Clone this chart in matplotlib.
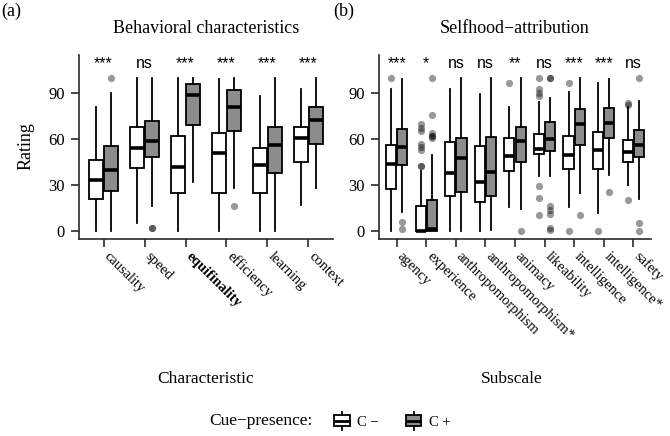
import numpy as np
import matplotlib
matplotlib.use('Agg')
import matplotlib.pyplot as plt
from matplotlib.patches import Rectangle, Patch
from matplotlib.lines import Line2D
from matplotlib.legend_handler import HandlerBase

plt.rcParams['font.family'] = ['Liberation Serif', 'DejaVu Serif']

# ---------------- data ----------------
# panel (a): behavioral characteristics
cats_a = ['causality', 'speed', 'equifinality', 'efficiency', 'learning', 'context']
sig_a = ['***', 'ns', '***', '***', '***', '***']
# C- (cue absent)
a_lo_m = [0, 5, 0, 0, 0, 17]
a_q1_m = [21, 41, 25, 25, 25, 45]
a_med_m = [33, 54, 42, 51, 43, 61]
a_q3_m = [46, 68, 62, 64, 54, 68]
a_hi_m = [81, 100, 100, 99, 88, 93]
a_out_m = [[], [], [], [], [], []]
# C+ (cue present)
a_lo_p = [0, 16, 32, 28, 0, 28]
a_q1_p = [26, 48.5, 69, 65, 38, 57]
a_med_p = [40, 59, 88.5, 81, 56, 72.5]
a_q3_p = [55.5, 71.5, 96, 92, 68, 81]
a_hi_p = [90, 100, 100, 100, 100, 100]
a_out_p = [[100], [1.5, 1.5], [], [16.5], [], []]

# panel (b): selfhood attribution
cats_b = ['agency', 'experience', 'anthropomorphism', 'anthropomorphism*', 'animacy',
          'likeability', 'intelligence', 'intelligence*', 'safety']
sig_b = ['***', '*', 'ns', 'ns', '**', 'ns', '***', '***', 'ns']
b_lo_m = [0, 0, 0, 0, 15.5, 35.5, 15.5, 11.5, 30]
b_q1_m = [27, 0, 22.5, 19, 38.8, 50, 40.2, 40.3, 45.2]
b_med_m = [44, 0, 37.6, 32, 49.2, 53.4, 49.8, 52.8, 51.7]
b_q3_m = [56, 16, 58.3, 55.7, 60.5, 63.5, 62, 64.8, 59.4]
b_hi_m = [93, 39, 92.6, 89.6, 81, 84.5, 91, 96.8, 81]
b_out_m = [[100], [70, 67.5, 65.5, 56.8, 55, 53, 42.5, 42.5], [], [], [96.5],
           [100, 92.6, 90.4, 88, 29.3, 21.2, 10], [96.5, 0], [0], [83.5, 82, 20]]
b_lo_p = [12, 0, 0, 0.4, 14, 36, 24.5, 36.5, 21]
b_q1_p = [43, 0, 25.6, 22.7, 45.2, 52.4, 56.1, 61, 48]
b_med_p = [54.8, 1, 47.4, 38.7, 58.7, 60, 69.9, 70.7, 56.3]
b_q3_p = [66.8, 20.3, 61, 61.2, 68.1, 71.2, 79.7, 80.2, 65.8]
b_hi_p = [99.5, 49.8, 100, 100, 100, 87, 100, 99.5, 85]
b_out_p = [[6, 1], [100, 76, 64, 62, 62, 60.5], [], [], [0],
           [100, 100, 16, 13.5, 11, 1.5, 0.4], [10], [25.6], [100, 5.2, 0]]

GRAY = '#8c8c8c'
SANS = ['Liberation Sans', 'DejaVu Sans']


def make_stats(lo, q1, med, q3, hi, out):
    return [dict(whislo=l, q1=a, med=m, q3=b, whishi=h, fliers=f)
            for l, a, m, b, h, f in zip(lo, q1, med, q3, hi, out)]


def draw_panel(ax, cats, sig, st_minus, st_plus, bold=None):
    pos = np.arange(1, len(cats) + 1)
    for stats, off, fc in [(st_minus, -0.19, 'white'), (st_plus, 0.19, GRAY)]:
        ax.bxp(stats, positions=pos + off, widths=0.34, patch_artist=True,
               showcaps=False, manage_ticks=False,
               boxprops=dict(facecolor=fc, edgecolor='black', linewidth=1.3),
               medianprops=dict(color='black', linewidth=2.6, solid_capstyle='butt'),
               whiskerprops=dict(color='black', linewidth=1.3),
               flierprops=dict(marker='o', markerfacecolor='black',
                               markeredgecolor='none', alpha=0.4, markersize=5.2))
    for p, s in zip(pos, sig):
        ax.text(p, 106.5, s, ha='center', va='baseline', fontsize=11.5, family=SANS)
    ax.set_xlim(0.4, len(cats) + 0.6)
    ax.set_ylim(-5.4, 115)
    ax.set_yticks([0, 30, 60, 90])
    ax.set_xticks(pos)
    ax.set_xticklabels(cats, rotation=-45, ha='left', va='baseline',
                       rotation_mode='anchor', fontsize=10.5)
    if bold is not None:
        ax.get_xticklabels()[bold].set_fontweight('bold')
    for side in ['top', 'right']:
        ax.spines[side].set_visible(False)
    for side in ['left', 'bottom']:
        ax.spines[side].set_color('#2a2a2a')
        ax.spines[side].set_linewidth(1.2)
    ax.tick_params(axis='both', length=6, width=1.2, color='#2a2a2a')
    ax.tick_params(axis='y', labelsize=12, pad=4)
    ax.tick_params(axis='x', pad=7)


class BoxHandler(HandlerBase):
    def create_artists(self, legend, orig_handle, xdescent, ydescent,
                       width, height, fontsize, trans):
        x0, y0 = -xdescent, -ydescent
        fc = orig_handle.get_facecolor()
        rect = Rectangle((x0, y0 + height * 0.12), width, height * 0.76,
                         facecolor=fc, edgecolor='black', lw=1.3, transform=trans)
        med = Line2D([x0, x0 + width], [y0 + height / 2] * 2, color='black',
                     lw=2.0, solid_capstyle='butt', transform=trans)
        xm = x0 + width / 2
        w1 = Line2D([xm, xm], [y0 + height * 0.88, y0 + height * 1.12],
                    color='black', lw=1.3, transform=trans)
        w2 = Line2D([xm, xm], [y0 + height * 0.12, y0 - height * 0.12],
                    color='black', lw=1.3, transform=trans)
        return [w1, w2, rect, med]


fig = plt.figure(figsize=(6.7, 4.36), dpi=100)
ax_a = fig.add_axes([79 / 670, 0.4518, 254 / 670, 0.4221])
ax_b = fig.add_axes([379 / 670, 0.4518, 272 / 670, 0.4221])

draw_panel(ax_a, cats_a, sig_a,
           make_stats(a_lo_m, a_q1_m, a_med_m, a_q3_m, a_hi_m, a_out_m),
           make_stats(a_lo_p, a_q1_p, a_med_p, a_q3_p, a_hi_p, a_out_p), bold=2)
draw_panel(ax_b, cats_b, sig_b,
           make_stats(b_lo_m, b_q1_m, b_med_m, b_q3_m, b_hi_m, b_out_m),
           make_stats(b_lo_p, b_q1_p, b_med_p, b_q3_p, b_hi_p, b_out_p))

# titles and labels
fig.text(11 / 670, 1 - 11 / 436, '(a)', ha='center', va='center', fontsize=13)
fig.text(344 / 670, 1 - 11 / 436, '(b)', ha='center', va='center', fontsize=13)
fig.text(206 / 670, 1 - 28 / 436, 'Behavioral characteristics', ha='center', va='center', fontsize=13)
fig.text(515 / 670, 1 - 28 / 436, 'Selfhood\u2212attribution', ha='center', va='center', fontsize=13)
fig.text(26 / 670, 1 - 146 / 436, 'Rating', ha='center', va='center', rotation=90, fontsize=13)
fig.text(206 / 670, 1 - 379 / 436, 'Characteristic', ha='center', va='center', fontsize=12.5)
fig.text(512 / 670, 1 - 379 / 436, 'Subscale', ha='center', va='center', fontsize=12.5)

# legend
fig.text(313 / 670, 1 - 421 / 436, 'Cue\u2212presence:', ha='right', va='center', fontsize=12.5)
handles = [Patch(facecolor='white', edgecolor='black'), Patch(facecolor=GRAY, edgecolor='black')]
fig.legend(handles, ['C \u2212', 'C +'], ncol=2, frameon=False, loc='center left',
           bbox_to_anchor=(324 / 670, 1 - 421 / 436), fontsize=10.5,
           handler_map={Patch: BoxHandler()}, handlelength=1.05, handleheight=1.17,
           handletextpad=0.5, columnspacing=1.9, borderpad=0.2)

fig.savefig('out.png', dpi=100)
